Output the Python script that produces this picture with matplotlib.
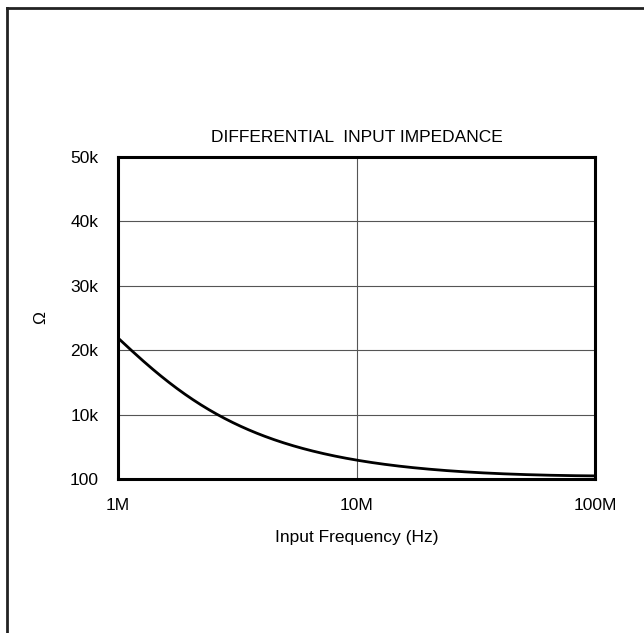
import numpy as np
import matplotlib.pyplot as plt
from matplotlib.lines import Line2D

plt.rcParams['font.family'] = ['Liberation Sans', 'DejaVu Sans']

# impedance curve (frequency in Hz, impedance in ohm)
freq = [1e6, 1.15e6, 1.5e6, 2e6, 2.5e6, 3e6, 5e6, 7e6, 10e6, 22e6, 43e6, 70e6, 100e6]
imped = [21500, 20000, 16700, 12800, 10000, 8500, 5800, 4200, 2850, 1400, 780, 560, 480]

yticks = [0, 10000, 20000, 30000, 40000, 50000]
ytick_labels = ['100', '10k', '20k', '30k', '40k', '50k']
xticks = [1e6, 1e7, 1e8]
xtick_labels = ['1M', '10M', '100M']

fig = plt.figure(figsize=(6.44, 6.33), dpi=100)
ax = fig.add_axes([0.1832, 0.2433, 0.7408, 0.5087])

# smooth the read points in log-log space
lf = np.log10(freq)
li = np.log10(imped)
coef = np.polyfit(lf, li, 5)
lf_fine = np.linspace(lf[0], lf[-1], 300)
ax.plot(10**lf_fine, 10**np.polyval(coef, lf_fine), color='black', lw=2.0)

ax.set_xscale('log')
ax.set_xlim(1e6, 1e8)
ax.set_ylim(0, 50000)
ax.set_xticks(xticks)
ax.set_xticklabels(xtick_labels)
ax.xaxis.set_minor_locator(plt.NullLocator())
ax.set_yticks(yticks)
ax.set_yticklabels(ytick_labels)
ax.tick_params(length=0, labelsize=12.5, pad=14)
ax.tick_params(axis='x', pad=14)
ax.grid(True, color='#555555', lw=0.8)
ax.set_axisbelow(True)
for s in ax.spines.values():
    s.set_linewidth(2.2)

ax.set_title('DIFFERENTIAL  INPUT IMPEDANCE', fontsize=12.5, pad=11)
ax.set_xlabel('Input Frequency (Hz)', fontsize=12.5, labelpad=12)
ax.set_ylabel('\u03a9', fontsize=12.5, labelpad=15)

# outer frame (top and left only)
fig.add_artist(Line2D([7/644, 1.0], [1-8/633, 1-8/633], color='#222222', lw=2.0))
fig.add_artist(Line2D([7/644, 7/644], [0, 1-8/633], color='#222222', lw=2.0))

fig.savefig('out.png', dpi=100)
